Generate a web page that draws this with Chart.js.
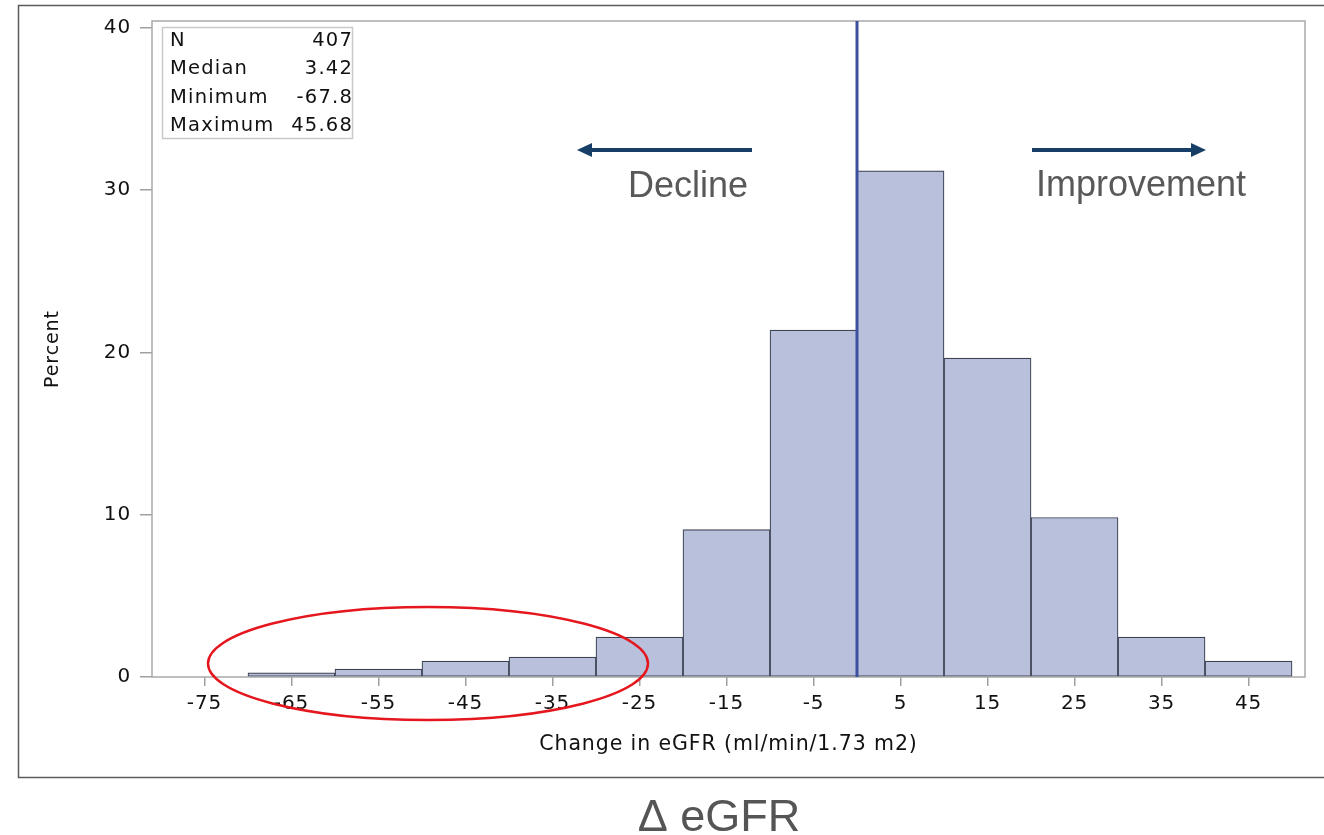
<!DOCTYPE html>
<html>
<head>
<meta charset="utf-8">
<script src="https://cdn.jsdelivr.net/npm/chart.js@4.4.1/dist/chart.umd.min.js"></script>
<style>
html,body{margin:0;padding:0;background:#fff;}
#wrap{width:1324px;height:835px;position:relative;}
</style>
</head>
<body>
<div id="wrap"><canvas id="c" width="1324" height="835"></canvas></div>
<script>
// ---- data ----
const binCenters = [-75, -65, -55, -45, -35, -25, -15, -5, 5, 15, 25, 35, 45];
const percents   = [0, 0.25, 0.49, 0.98, 1.23, 2.46, 9.09, 21.38, 31.20, 19.66, 9.83, 2.46, 0.98];
const xTickValues = [-75, -65, -55, -45, -35, -25, -15, -5, 5, 15, 25, 35, 45];
const yTickValues = [0, 10, 20, 30, 40];
const statLabels = ['N', 'Median', 'Minimum', 'Maximum'];
const statValues = ['407', '3.42', '-67.8', '45.68'];
const refLineValue = 0;
const xTitle = 'Change in eGFR (ml/min/1.73 m2)';
const yTitle = 'Percent';
const leftNote = 'Decline';
const rightNote = 'Improvement';
const footTitle = '\u0394 eGFR';

const SAS_FONT = 'DejaVu Sans';
const SAS_LS = '0.9px';

const overlay = {
  id: 'overlay',
  beforeDraw(chart) {
    const ctx = chart.ctx;
    ctx.letterSpacing = SAS_LS;
    ctx.save();
    ctx.letterSpacing = '0px';
    ctx.strokeStyle = '#5c5c5c';
    ctx.lineWidth = 1.5;
    ctx.strokeRect(18.5, 5.5, 1330, 772);
    ctx.restore();
  },
  beforeDatasetsDraw(chart) {
    const {ctx, chartArea: a} = chart;
    ctx.save();
    ctx.strokeStyle = '#a9a9a9';
    ctx.lineWidth = 1.5;
    ctx.strokeRect(a.left, a.top, a.right - a.left, a.bottom - a.top);
    ctx.restore();
  },
  afterDatasetsDraw(chart) {
    const {ctx, chartArea: a, scales} = chart;
    const x0 = scales.x.getPixelForValue(refLineValue);
    ctx.save();
    // reference line
    ctx.strokeStyle = '#3d4f9f';
    ctx.lineWidth = 3;
    ctx.beginPath();
    ctx.moveTo(x0, a.top);
    ctx.lineTo(x0, a.bottom);
    ctx.stroke();

    // stats box
    ctx.fillStyle = '#fff';
    ctx.fillRect(162, 27, 190, 111);
    ctx.strokeStyle = '#c9c9c9';
    ctx.lineWidth = 1.5;
    ctx.strokeRect(162.5, 27.5, 190, 111);
    ctx.fillStyle = '#111';
    ctx.font = '19.5px "' + SAS_FONT + '"';
    ctx.letterSpacing = '1.2px';
    ctx.textBaseline = 'alphabetic';
    const base = [46, 74.3, 102.7, 131];
    statLabels.forEach((t, i) => {
      ctx.textAlign = 'left';
      ctx.fillText(t, 170, base[i]);
      ctx.textAlign = 'right';
      ctx.fillText(statValues[i], 353, base[i]);
    });
    ctx.letterSpacing = '0px';

    // arrows
    ctx.strokeStyle = '#163e66';
    ctx.fillStyle = '#163e66';
    ctx.lineWidth = 4;
    ctx.beginPath(); ctx.moveTo(752, 150); ctx.lineTo(588, 150); ctx.stroke();
    ctx.beginPath(); ctx.moveTo(577, 150); ctx.lineTo(592, 143); ctx.lineTo(592, 157); ctx.closePath(); ctx.fill();
    ctx.beginPath(); ctx.moveTo(1032, 150); ctx.lineTo(1194, 150); ctx.stroke();
    ctx.beginPath(); ctx.moveTo(1206, 150); ctx.lineTo(1191, 143); ctx.lineTo(1191, 157); ctx.closePath(); ctx.fill();

    // annotation text
    ctx.fillStyle = '#595959';
    ctx.font = '36px "Liberation Sans"';
    ctx.textAlign = 'center';
    ctx.textBaseline = 'alphabetic';
    ctx.fillText(leftNote, 688, 197);
    ctx.fillText(rightNote, 1141, 196);

    // red ellipse
    ctx.strokeStyle = '#e5161d';
    ctx.lineWidth = 2.5;
    ctx.beginPath();
    ctx.ellipse(428, 663.5, 220, 56.5, 0, 0, Math.PI * 2);
    ctx.stroke();

    // footer
    ctx.fillStyle = '#555555';
    ctx.font = '45px "Liberation Sans"';
    ctx.fillText(footTitle, 719, 831);
    ctx.restore();
  }
};

new Chart(document.getElementById('c'), {
  type: 'bar',
  data: {
    datasets: [{
      data: binCenters.map((x, i) => ({x: x, y: percents[i]})),
      backgroundColor: '#b8c0dc',
      borderColor: '#3d4354',
      borderWidth: 1.2,
      borderSkipped: false,
      barPercentage: 1,
      categoryPercentage: 1
    }]
  },
  options: {
    responsive: false,
    animation: false,
    devicePixelRatio: 1,
    layout: {padding: {left: 0, right: 19, top: 18, bottom: 58}},
    plugins: {legend: {display: false}, tooltip: {enabled: false}},
    scales: {
      x: {
        type: 'linear',
        offset: false,
        min: -81.03,
        max: 51.49,
        afterBuildTicks: s => { s.ticks = xTickValues.map(v => ({value: v})); },
        afterFit: s => { s.height = 100; },
        grid: {offset: false, drawOnChartArea: false, drawTicks: true, tickLength: 9, color: '#a0a0a0', lineWidth: 1.5},
        border: {display: false},
        ticks: {color: '#111', font: {family: SAS_FONT, size: 20}, padding: 6, maxRotation: 0, autoSkip: false},
        title: {display: true, text: xTitle, color: '#111', font: {family: SAS_FONT, size: 20.5}, padding: {top: 0, bottom: 20}}
      },
      y: {
        min: 0,
        max: 40.43,
        afterBuildTicks: s => { s.ticks = yTickValues.map(v => ({value: v})); },
        afterFit: s => { s.width = 152; },
        grid: {drawOnChartArea: false, drawTicks: true, tickLength: 12, color: '#a0a0a0', lineWidth: 1.5},
        border: {display: false},
        ticks: {color: '#111', font: {family: SAS_FONT, size: 20}, padding: 9},
        title: {display: true, text: yTitle, color: '#111', font: {family: SAS_FONT, size: 19}, padding: {top: 42, bottom: 0}}
      }
    }
  },
  plugins: [overlay]
});
</script>
</body>
</html>
